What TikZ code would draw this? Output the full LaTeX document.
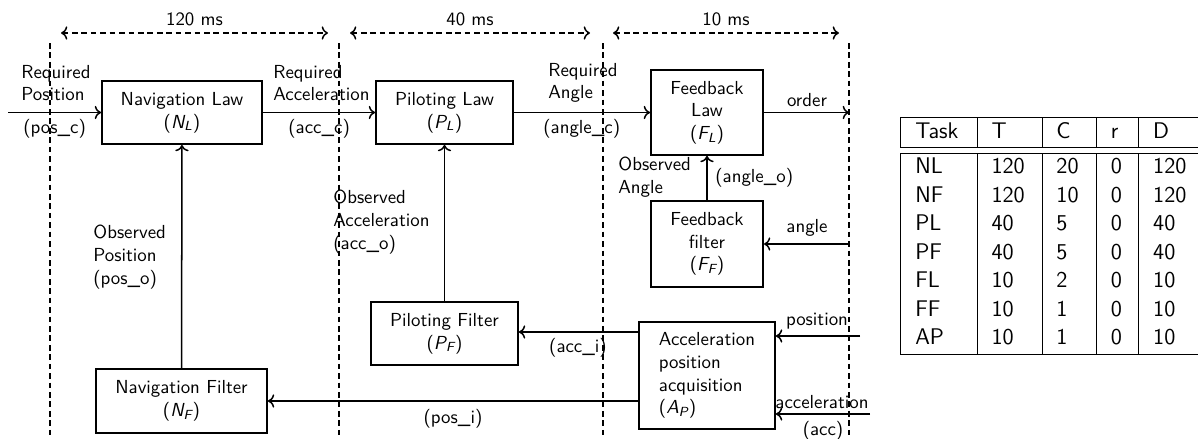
\documentclass[tikz,border=0pt]{standalone}
\usepackage{amsmath}
\usepackage{array}
\usetikzlibrary{arrows.meta,positioning,calc}

\newcommand{\sfsub}[2]{$\textit{#1}_{\textit{#2}}$}

\begin{document}
\begin{tikzpicture}[
  x=0.53pt, y=-0.53pt,
  font=\sffamily,
  box/.style={draw, line width=1pt, align=center, inner sep=0pt},
  arrow/.style={->, line width=0.8pt},
  period/.style={<->, dash pattern=on 3pt off 2pt, line width=0.8pt},
  slot/.style={dash pattern=on 3pt off 2pt, line width=0.8pt},
  lbl/.style={inner sep=0pt, align=left, anchor=west},
  tag/.style={inner sep=0pt}
]
\useasboundingbox (0,0) rectangle (1198,439);

% period borders
\foreach \x in {50,339,603,849}
  \draw[slot] (\x,43) -- (\x,439);
\coordinate (p1l) at (61,33);  \coordinate (p1r) at (328,33);
\coordinate (p2l) at (350,33); \coordinate (p2r) at (590,33);
\coordinate (p3l) at (613,33); \coordinate (p3r) at (839,33);
\draw[period] (p1l) -- node[above] {120 ms} (p1r);
\draw[period] (p2l) -- node[above] {40 ms} (p2r);
\draw[period] (p3l) -- node[above] {10 ms} (p3r);

% tasks
\node[box, minimum width=84.8pt, minimum height=33.4pt] (navlaw) at (182,112.5) {Navigation Law\\(\sfsub{N}{L})};
\node[box, minimum width=72.6pt, minimum height=33.4pt] (pillaw) at (444.5,112.5) {Piloting Law\\(\sfsub{P}{L})};
\node[box, minimum width=59.4pt, minimum height=45pt] (fblaw) at (707,112.5) {Feedback\\Law\\(\sfsub{F}{L})};
\node[box, minimum width=59.4pt, minimum height=45.6pt] (fbfilt) at (707,244) {Feedback\\filter\\(\sfsub{F}{F})};
\node[box, minimum width=77.9pt, minimum height=33.4pt] (pilfilt) at (444.5,333.5) {Piloting Filter\\(\sfsub{P}{F})};
\node[box, align=left, minimum width=72.1pt, minimum height=56.7pt] (acq) at (707,375.5) {Acceleration\\position\\acquisition\\(\sfsub{A}{P})};
\node[box, minimum width=90.6pt, minimum height=33.9pt] (navfilt) at (181.5,401) {Navigation Filter\\(\sfsub{N}{F})};

% free ends
\coordinate (posin) at (8,112.5);
\coordinate (orderout) at (849,112.5);
\coordinate (angin) at (849,244);
\coordinate (possrc) at (860,336);
\coordinate (accsrc) at (870,414);

% data flow
\draw[arrow] (posin) -- (navlaw.west);
\draw[arrow] (navlaw) -- (pillaw);
\draw[arrow] (pillaw) -- (fblaw);
\draw[arrow] (fblaw.east) -- (orderout);
\draw[arrow] (fbfilt) -- (fblaw);
\draw[arrow] (angin) -- (fbfilt.east);
\draw[arrow] (pilfilt) -- (pillaw);
\draw[arrow] (navfilt) -- (navlaw);
\draw[arrow] (acq.west |- 0,332) -- (pilfilt.east |- 0,332);
\draw[arrow] (acq.west |- navfilt.east) -- (navfilt.east);
\draw[arrow] (possrc) -- (acq.east |- possrc);
\draw[arrow] (accsrc) -- (acq.east |- accsrc);

% labels
\node[lbl] (reqpos) at (21,83) {Required\\Position};
\node[lbl] (posc) at (23,129) {(pos\_c)};
\node[lbl] (reqacc) at (273,83) {Required\\Acceleration};
\node[lbl] (accc) at (288,129) {(acc\_c)};
\node[lbl] (reqang) at (548,83) {Required\\Angle};
\node[lbl] (angc) at (543,129) {(angle\_c)};
\node[tag] (order) at (807,100) {order};
\node[lbl] (obsang) at (618,177) {Observed\\Angle};
\node[lbl] (ango) at (715,178) {(angle\_o)};
\node[tag] (angle) at (807,228) {angle};
\node[lbl] (obspos) at (93,257) {Observed\\Position\\(pos\_o)};
\node[lbl] (obsacc) at (333,222) {Observed\\Acceleration\\(acc\_o)};
\node[tag] (acci) at (578,348) {(acc\_i)};
\node[tag] (posi) at (453,419) {(pos\_i)};
\node[tag] (position) at (817,321) {position};
\node[tag] (acceleration) at (822,402) {acceleration};
\node[tag] (acc) at (823,431) {(acc)};

% task table
\node[anchor=north west, inner sep=0pt] (tasks) at (900,117) {\large
  \setlength\tabcolsep{7.5pt}\setlength\doublerulesep{3pt}\renewcommand\arraystretch{1.08}%
  \begin{tabular}{|p{25pt}|p{19pt}|p{13.5pt}|p{7pt}|p{26pt}|}
  \hline
  Task & T & C & r & D\\ \hline\hline
  NL & 120 & 20 & 0 & 120\\
  NF & 120 & 10 & 0 & 120\\
  PL & 40 & 5 & 0 & 40\\
  PF & 40 & 5 & 0 & 40\\
  FL & 10 & 2 & 0 & 10\\
  FF & 10 & 1 & 0 & 10\\
  AP & 10 & 1 & 0 & 10\\ \hline
  \end{tabular}};
\end{tikzpicture}
\end{document}
